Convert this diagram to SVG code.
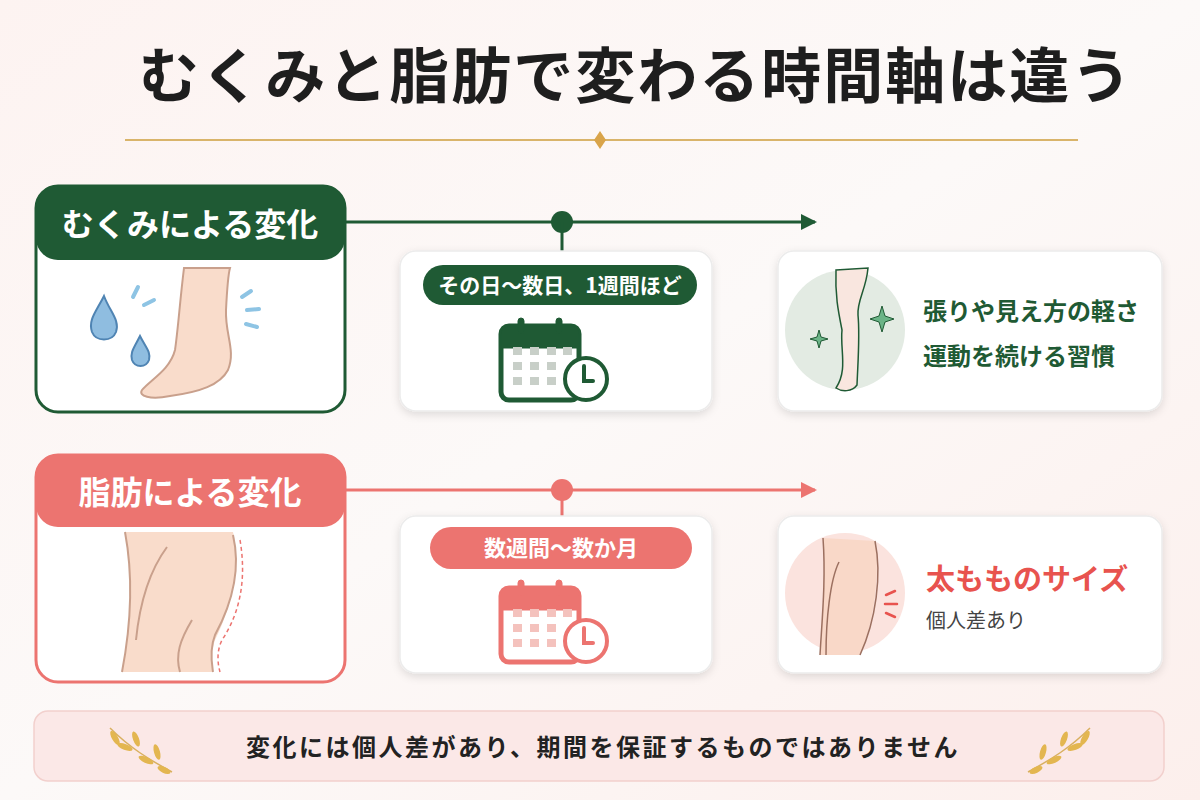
<svg xmlns="http://www.w3.org/2000/svg" width="1200" height="800" viewBox="0 0 1200 800">
<defs>
<style>
.t{font-family:"Noto Sans CJK JP","Noto Sans",sans-serif;font-weight:700}
.card{fill:#fff;stroke:#ececec;stroke-width:1.5}
.skin{fill:#f9dccb;stroke:#c9a08c;stroke-width:2}
</style>
<filter id="sh" x="-10%" y="-10%" width="120%" height="130%"><feDropShadow dx="0" dy="3" stdDeviation="4" flood-color="#000" flood-opacity="0.12"/></filter>
<linearGradient id="bg" x1="0" y1="0" x2="1" y2="1"><stop offset="0" stop-color="#fdf3f1"/><stop offset="0.5" stop-color="#fcf9f8"/><stop offset="1" stop-color="#fcefec"/></linearGradient>
<marker id="ag" markerWidth="16" markerHeight="16" refX="14" refY="8" orient="auto" markerUnits="userSpaceOnUse" viewBox="0 0 16 16"><path d="M0,0 L16,8 L0,16 z" fill="#1f5a34"/></marker>
<marker id="ap" markerWidth="16" markerHeight="16" refX="14" refY="8" orient="auto" markerUnits="userSpaceOnUse" viewBox="0 0 16 16"><path d="M0,0 L16,8 L0,16 z" fill="#ec7470"/></marker>
<g id="cal">
<rect x="0" y="8" width="78" height="74" rx="8" fill="#fff" stroke-width="5"/>
<path d="M0,30 V16 a8,8 0 0 1 8,-8 H70 a8,8 0 0 1 8,8 V30 z"/>
<rect x="17" y="0" width="6" height="16" rx="3"/><rect x="55" y="0" width="6" height="16" rx="3"/>
</g>
</defs>
<rect width="1200" height="800" fill="url(#bg)"/>
<text x="636" y="98" text-anchor="middle" class="t" font-size="60" letter-spacing="2" fill="#1e1e1e">むくみと脂肪で変わる時間軸は違う</text>
<line x1="125" y1="140" x2="1078" y2="140" stroke="#d9b46a" stroke-width="2"/>
<path d="M600,131 L606,140 L600,149 L594,140 z" fill="#d9a44a"/>

<g id="connectors">
<line x1="345" y1="222" x2="815" y2="222" stroke="#1f5a34" stroke-width="3" marker-end="url(#ag)"/>
<circle cx="562" cy="222" r="11" fill="#1f5a34"/>
<line x1="562" y1="222" x2="562" y2="252" stroke="#1f5a34" stroke-width="3"/>
<line x1="345" y1="490" x2="815" y2="490" stroke="#ec7470" stroke-width="3" marker-end="url(#ap)"/>
<circle cx="562" cy="490" r="11" fill="#ec7470"/>
<line x1="562" y1="490" x2="562" y2="517" stroke="#ec7470" stroke-width="3"/>
</g>

<g id="mukumi">
<rect x="36" y="186" width="309" height="226" rx="22" fill="#fff" stroke="#1f5a34" stroke-width="3"/>
<path d="M36,258 V208 a22,22 0 0 1 22,-22 H323 a22,22 0 0 1 22,22 V238 a22,22 0 0 1 -22,22 H58 a22,22 0 0 1 -22,-20 z" fill="#1f5a34"/>
<text x="190" y="236" text-anchor="middle" class="t" font-size="32" fill="#fff">むくみによる変化</text>
<path d="M184,268 C180,300 178,330 175,350 C170,370 150,380 142,390 C138,396 150,400 170,396 C200,392 220,385 228,370 C236,350 225,335 226,310 C227,290 228,275 230,268 z" class="skin"/>
<path d="M104,296 C96,312 88,320 92,332 C96,342 112,342 116,332 C120,320 110,312 104,296 z" fill="#8fbde0" stroke="#4f84b3" stroke-width="2"/>
<path d="M140,336 C134,348 130,352 132,360 C135,368 146,368 149,360 C151,352 146,348 140,336 z" fill="#8fbde0" stroke="#4f84b3" stroke-width="2"/>
<g stroke="#8ec4e4" stroke-width="4" stroke-linecap="round"><line x1="133" y1="297" x2="138" y2="287"/><line x1="144" y1="305" x2="154" y2="300"/><line x1="242" y1="297" x2="251" y2="291"/><line x1="247" y1="310" x2="259" y2="309"/><line x1="246" y1="324" x2="257" y2="327"/></g>
</g>

<g id="mid1">
<rect x="400" y="251" width="312" height="160" rx="16" class="card" filter="url(#sh)"/>
<rect x="423" y="265" width="274" height="40" rx="20" fill="#1f5a34"/>
<text x="560" y="293" text-anchor="middle" class="t" font-size="21" fill="#fff">その日〜数日、1週間ほど</text>
<g transform="translate(501,318)" fill="#1f5a34" stroke="#1f5a34"><use href="#cal"/></g>
<g fill="#c8cfc8"><rect x="513" y="347" width="9" height="8"/><rect x="530" y="347" width="9" height="8"/><rect x="547" y="347" width="9" height="8"/><rect x="563" y="347" width="9" height="8"/><rect x="513" y="362" width="9" height="8"/><rect x="530" y="362" width="9" height="8"/><rect x="547" y="362" width="9" height="8"/><rect x="513" y="377" width="9" height="8"/><rect x="530" y="377" width="9" height="8"/><rect x="547" y="377" width="9" height="8"/></g>
<circle cx="586" cy="379" r="21" fill="#fff" stroke="#1f5a34" stroke-width="4"/>
<path d="M584,366 V381 H593" fill="none" stroke="#1f5a34" stroke-width="4" stroke-linecap="round"/>
</g>

<g id="res1">
<rect x="778" y="251" width="384" height="160" rx="16" class="card" filter="url(#sh)"/>
<circle cx="845" cy="330" r="60" fill="#e3ebe3"/>
<path d="M836,270 L868,268 C866,290 857,300 858,315 C860,335 858,360 857,385 C852,392 842,392 836,388 C848,370 840,350 842,330 C838,310 835,295 836,270 z" fill="#f9e6df" stroke="#1f5a34" stroke-width="1.5"/>
<path d="M882,306 L885,316 L894,319 L885,322 L882,332 L879,322 L870,319 L879,316 z" fill="#6bb487" stroke="#1f5a34" stroke-width="1"/>
<path d="M819,330 L821,337 L828,339 L821,341 L819,348 L817,341 L810,339 L817,337 z" fill="#6bb487" stroke="#1f5a34" stroke-width="1"/>
<text x="923" y="320" class="t" font-size="24" fill="#1f5a34">張りや見え方の軽さ</text>
<text x="923" y="365" class="t" font-size="24" fill="#1f5a34">運動を続ける習慣</text>
</g>

<g id="shibo">
<rect x="36" y="455" width="309" height="227" rx="22" fill="#fff" stroke="#ec7470" stroke-width="3"/>
<path d="M36,525 V477 a22,22 0 0 1 22,-22 H323 a22,22 0 0 1 22,22 V505 a22,22 0 0 1 -22,22 H58 a22,22 0 0 1 -22,-20 z" fill="#ec7470"/>
<text x="190" y="504" text-anchor="middle" class="t" font-size="32" fill="#fff">脂肪による変化</text>
<path d="M125,532 L233,532 C240,560 235,600 215,640 C211,650 212,665 213,672 L122,672 C128,640 135,600 125,532 z" fill="#f9dccb"/>
<path d="M125,532 C134,580 130,630 122,672 M233,535 C240,565 234,600 215,635 C209,650 212,665 213,672 M167,547 C150,570 140,600 136,640 M192,620 C180,640 175,655 180,672" fill="none" stroke="#c9a08c" stroke-width="2"/>
<path d="M240,540 C246,575 242,610 222,640 C216,652 218,665 220,672" fill="none" stroke="#ec7470" stroke-width="1.5" stroke-dasharray="4 3"/>
</g>

<g id="mid2">
<rect x="400" y="516" width="312" height="157" rx="16" class="card" filter="url(#sh)"/>
<rect x="430" y="527" width="262" height="42" rx="21" fill="#ec7470"/>
<text x="561" y="556" text-anchor="middle" class="t" font-size="22" fill="#fff">数週間〜数か月</text>
<g transform="translate(501,580)" fill="#ec7470" stroke="#ec7470"><use href="#cal"/></g>
<g fill="#f4c2bd"><rect x="513" y="609" width="9" height="8"/><rect x="530" y="609" width="9" height="8"/><rect x="547" y="609" width="9" height="8"/><rect x="563" y="609" width="9" height="8"/><rect x="513" y="624" width="9" height="8"/><rect x="530" y="624" width="9" height="8"/><rect x="547" y="624" width="9" height="8"/><rect x="513" y="639" width="9" height="8"/><rect x="530" y="639" width="9" height="8"/><rect x="547" y="639" width="9" height="8"/></g>
<circle cx="586" cy="641" r="21" fill="#fff" stroke="#ec7470" stroke-width="4"/>
<path d="M584,628 V643 H593" fill="none" stroke="#ec7470" stroke-width="4" stroke-linecap="round"/>
</g>

<g id="res2">
<rect x="778" y="516" width="384" height="157" rx="16" class="card" filter="url(#sh)"/>
<circle cx="845" cy="593" r="60" fill="#fbe3de"/>
<path d="M823,538 L875,541 C880,570 875,620 860,655 L820,655 C822,620 826,580 823,538 z" fill="#f9d8c8"/>
<path d="M823,538 C826,580 822,620 820,655 M875,541 C882,575 876,620 860,655 M839,562 C830,580 826,620 826,655" fill="none" stroke="#9c7060" stroke-width="1.5"/>
<g stroke="#e8534e" stroke-width="2.5" stroke-linecap="round"><line x1="886" y1="595" x2="895" y2="591"/><line x1="885" y1="604" x2="897" y2="604"/><line x1="886" y1="613" x2="895" y2="617"/></g>
<text x="926" y="590" class="t" font-size="29" fill="#e8534e">太もものサイズ</text>
<text x="926" y="628" font-family="Noto Sans CJK JP, sans-serif" font-size="20" fill="#444">個人差あり</text>
</g>

<g id="note">
<rect x="34" y="711" width="1130" height="70" rx="14" fill="#fbe8e7" stroke="#f2d0cd" stroke-width="1.5"/>
<text x="603" y="756" text-anchor="middle" class="t" font-size="24" letter-spacing="2.5" fill="#222">変化には個人差があり、期間を保証するものではありません</text>
<g fill="none" stroke="#d9b060" stroke-width="1.5"><path d="M110,728 C130,748 150,760 172,772"/><path d="M1090,728 C1070,748 1050,760 1028,772"/></g>
<g fill="#e3b650">
<ellipse cx="115" cy="738" rx="3" ry="8" transform="rotate(-30 115 738)"/><ellipse cx="125" cy="747" rx="8" ry="3" transform="rotate(20 125 747)"/><ellipse cx="136" cy="739" rx="3" ry="8" transform="rotate(-20 136 739)"/><ellipse cx="146" cy="760" rx="8" ry="3" transform="rotate(25 146 760)"/><ellipse cx="157" cy="752" rx="3" ry="8" transform="rotate(-15 157 752)"/><ellipse cx="164" cy="770" rx="7" ry="3" transform="rotate(25 164 770)"/>
<ellipse cx="1085" cy="738" rx="3" ry="8" transform="rotate(30 1085 738)"/><ellipse cx="1075" cy="747" rx="8" ry="3" transform="rotate(-20 1075 747)"/><ellipse cx="1064" cy="739" rx="3" ry="8" transform="rotate(20 1064 739)"/><ellipse cx="1054" cy="760" rx="8" ry="3" transform="rotate(-25 1054 760)"/><ellipse cx="1043" cy="752" rx="3" ry="8" transform="rotate(15 1043 752)"/><ellipse cx="1036" cy="770" rx="7" ry="3" transform="rotate(-25 1036 770)"/>
</g>
</g>
</svg>
